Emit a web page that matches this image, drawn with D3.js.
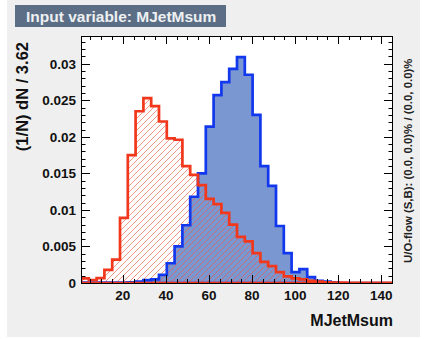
<!DOCTYPE html>
<html><head><meta charset="utf-8">
<script src="https://cdn.jsdelivr.net/npm/d3@7"></script>
<style>
html,body{margin:0;padding:0;background:#fff;}
svg{display:block;font-family:"Liberation Sans",Arial,sans-serif;}
</style></head>
<body>
<svg id="c" width="427" height="339"></svg>
<script>
// ---- data ----
const xMin = 0.6, xMax = 145.4, binWidth = 3.62;
const signal = [0.00005,0.00005,0.00005,0.00005,0.00005,0.00005,0.0001,0.0002,0.0004,0.0005,
  0.0011,0.0027,0.0050,0.0079,0.0118,0.0150,0.0214,0.0257,0.0275,0.0293,
  0.0309,0.0285,0.0230,0.0160,0.0133,0.0078,0.0041,0.0015,0.0019,0.0008,
  0.0003,0.0002,0.0001,0,0,0,0,0,0,0];
const background = [0.00064,0.00041,0.00068,0.0018,0.0032,0.0089,0.0175,0.0235,0.0253,0.0242,
  0.0221,0.0198,0.0196,0.0160,0.0148,0.0134,0.0115,0.0108,0.0096,0.0080,
  0.0063,0.0057,0.0041,0.0029,0.0023,0.0015,0.0009,0.00064,0.0005,0.0003,
  0.00018,0.0001,0.00005,0.00005,0.00003,0.00003,0.00002,0.00002,0.00002,0.00002];
const xTicks = [20,40,60,80,100,120,140];
const yTicks = [0,0.005,0.01,0.015,0.02,0.025,0.03];
const yTickLabels = ["0","0.005","0.01","0.015","0.02","0.025","0.03"];
const titleText = "Input variable: MJetMsum";
const xTitle = "MJetMsum";
const yTitle = "(1/N) dN / 3.62";
const flowText = "U/O-flow (S,B): (0.0, 0.0)% / (0.0, 0.0)%";

const svg = d3.select("#c");
const L = 81, R = 393, T = 36, B = 283;
const x = d3.scaleLinear().domain([xMin, xMax]).range([L, R]);
const y = d3.scaleLinear().domain([0, 0.0338]).range([B, T]);

// background panel
svg.append("rect").attr("x",7).attr("y",0).attr("width",413).attr("height",337).attr("fill","#efefef");

// title box
svg.append("rect").attr("x",15).attr("y",5).attr("width",211).attr("height",22).attr("fill","#5b6e86");
svg.append("text").attr("x",26).attr("y",22).attr("fill","#eef0f2")
  .attr("font-size",15.5).attr("font-weight","bold").text(titleText);

// frame interior
svg.append("rect").attr("x",L).attr("y",T).attr("width",R-L).attr("height",B-T).attr("fill","#fff");

function stepPath(vals){
  const p = d3.path();
  p.moveTo(x(xMin), y(0));
  vals.forEach((v,i)=>{
    const x0 = xMin + i*binWidth, x1 = x0 + binWidth;
    p.lineTo(x(x0), y(v)); p.lineTo(x(x1), y(v));
  });
  p.lineTo(x(xMin + vals.length*binWidth), y(0));
  p.closePath();
  return p.toString();
}

const defs = svg.append("defs");
defs.append("clipPath").attr("id","clip").append("rect").attr("x",L).attr("y",T).attr("width",R-L).attr("height",B-T);
defs.append("clipPath").attr("id","bgclip").append("path").attr("d",stepPath(background));

const g = svg.append("g").attr("clip-path","url(#clip)");
g.append("path").attr("d",stepPath(signal)).attr("fill","#7b97d2").attr("stroke","none");

// hatch lines for background histogram
const hatch = g.append("g").attr("clip-path","url(#bgclip)");
const spacing = 6;
hatch.selectAll("line").data(d3.range(L - (B-T), R + 1, spacing)).join("line")
  .attr("x1",d=>d).attr("y1",B).attr("x2",d=>d + (B-T)).attr("y2",T)
  .attr("stroke","#ea5a44").attr("stroke-opacity",0.8).attr("stroke-width",0.8);

g.append("path").attr("d",stepPath(signal)).attr("fill","none").attr("stroke","#1238ee").attr("stroke-width",2.7).attr("stroke-linejoin","miter");
g.append("path").attr("d",stepPath(background)).attr("fill","none").attr("stroke","#f2381c").attr("stroke-width",2.7).attr("stroke-linejoin","miter");

// ticks
const axG = svg.append("g").attr("stroke","#000").attr("stroke-width",1);
const xMinor = d3.range(5, 146, 5).filter(v=>v>xMin && v<xMax);
xMinor.forEach(v=>{
  const major = xTicks.includes(v);
  const len = major ? 8 : 4;
  const px = Math.round(x(v))+0.5;
  axG.append("line").attr("x1",px).attr("x2",px).attr("y1",B).attr("y2",B-len);
  axG.append("line").attr("x1",px).attr("x2",px).attr("y1",T).attr("y2",T+len);
});
const yMinor = d3.range(0, 0.0335, 0.001);
yMinor.forEach((v,i)=>{
  const major = i%5===0;
  const len = major ? 9 : 4.5;
  const py = Math.round(y(v))+0.5;
  axG.append("line").attr("x1",L).attr("x2",L+len).attr("y1",py).attr("y2",py);
  axG.append("line").attr("x1",R).attr("x2",R-len).attr("y1",py).attr("y2",py);
});

// frame
svg.append("rect").attr("x",L+0.5).attr("y",T+0.5).attr("width",R-L-1).attr("height",B-T).attr("fill","none").attr("stroke","#000").attr("stroke-width",1);

// tick labels
svg.append("g").selectAll("text").data(xTicks).join("text")
  .attr("x",d=>x(d)).attr("y",300).attr("text-anchor","middle")
  .attr("font-size",13.5).attr("font-weight","bold").attr("fill","#111").text(d=>d);
svg.append("g").selectAll("text").data(yTicks).join("text")
  .attr("x",76).attr("y",d=>y(d)+5).attr("text-anchor","end")
  .attr("font-size",13.5).attr("font-weight","bold").attr("fill","#111").text((d,i)=>yTickLabels[i]);

// axis titles
svg.append("text").attr("x",393).attr("y",326).attr("text-anchor","end")
  .attr("font-size",16).attr("font-weight","bold").attr("fill","#111").text(xTitle);
svg.append("text").attr("transform","translate(28,42) rotate(-90)").attr("text-anchor","end")
  .attr("font-size",16.5).attr("font-weight","bold").attr("fill","#111").text(yTitle);

// overflow text
svg.append("text").attr("transform","translate(412,263) rotate(-90)").attr("text-anchor","start")
  .attr("font-size",11.4).attr("font-weight","bold").attr("fill","#222").text(flowText);
</script>
</body></html>
